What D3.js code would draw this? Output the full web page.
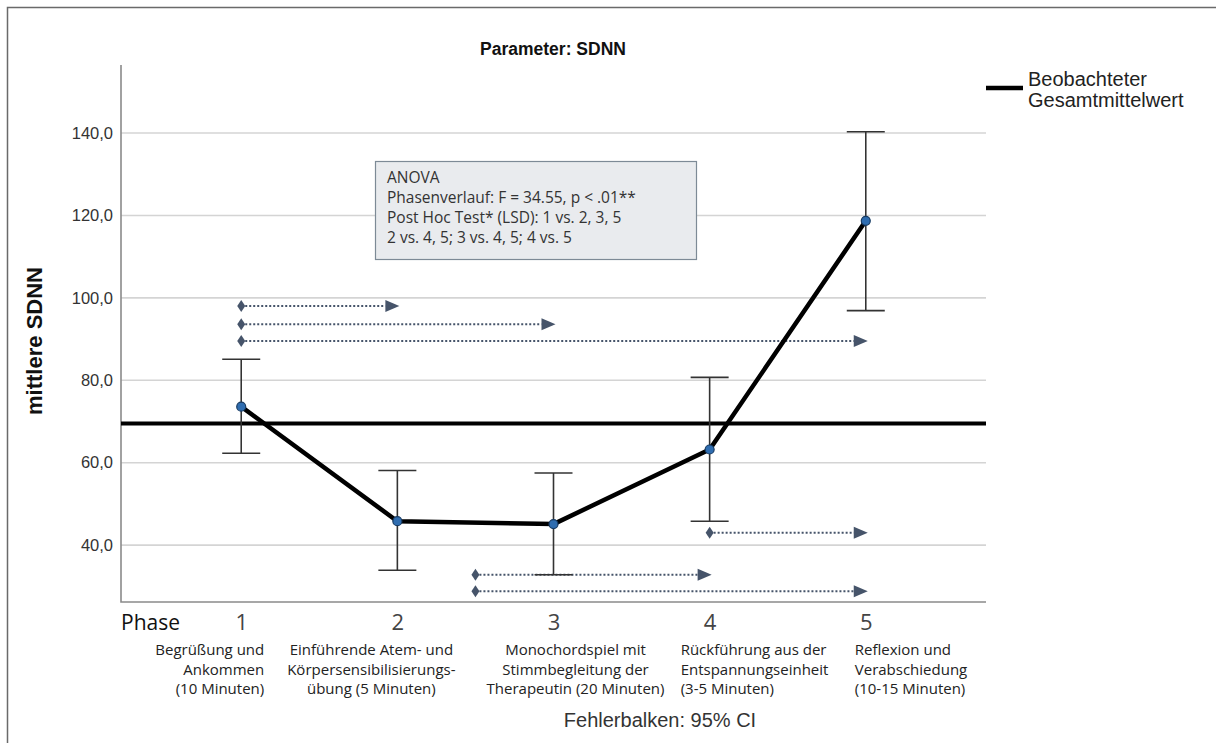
<!DOCTYPE html>
<html>
<head>
<meta charset="utf-8">
<script src="https://cdn.jsdelivr.net/npm/d3@7"></script>
<style>
  body { margin: 0; background: #fff; }
  svg { display: block; }
</style>
</head>
<body>
<div class="chart"></div>
<script>
// data
const phases = [1, 2, 3, 4, 5];
const phaseText = [
    ['Begrüßung und', 'Ankommen', '(10 Minuten)'],
    ['Einführende Atem- und', 'Körpersensibilisierungs-', 'übung (5 Minuten)'],
    ['Monochordspiel mit', 'Stimmbegleitung der', 'Therapeutin (20 Minuten)'],
    ['Rückführung aus der', 'Entspannungseinheit', '(3-5 Minuten)'],
    ['Reflexion und', 'Verabschiedung', '(10-15 Minuten)']
];
const means = [73.6, 45.8, 45.1, 63.2, 118.7];
const ciLow = [62.3, 33.9, 32.8, 45.8, 96.9];
const ciHigh = [85.1, 58.1, 57.5, 80.7, 140.3];
const grandMean = 69.5;
const yTicks = [40, 60, 80, 100, 120, 140];

// significance arrows: from phase, to phase, height (SDNN units)
const arrowFrom = [1, 1, 1, 4, 2.5, 2.5];
const arrowTo = [2, 3, 5, 5, 4, 5];
const arrowLevel = [98.0, 93.6, 89.5, 43.0, 32.8, 28.8];

const anovaLines = [
    'ANOVA',
    'Phasenverlauf: F = 34.55, p < .01**',
    'Post Hoc Test* (LSD): 1 vs. 2, 3, 5',
    '2 vs. 4, 5; 3 vs. 4, 5; 4 vs. 5'
];

const width = 1216;
const height = 743;
const plotLeft = 121, plotRight = 986, plotTop = 65, plotBottom = 602;

const svg = d3.select('.chart')
    .append('svg')
    .attr('width', width)
    .attr('height', height)

// outer frame
svg.append('rect')
    .attr('x', 7.5).attr('y', 7.5)
    .attr('width', width + 20).attr('height', height + 20)
    .attr('fill', 'none')
    .attr('stroke', '#6a6a6a')
    .attr('stroke-width', 1.5)

const x = d3.scalePoint()
    .domain(phases)
    .range([plotLeft, plotRight])
    .padding(0.77)

const xPos = p => x(1) + (p - 1) * x.step()

const y = d3.scaleLinear()
    .domain([26.2, 156.5])
    .range([plotBottom, plotTop])

// gridlines
svg.selectAll('.grid')
    .data(yTicks)
    .enter()
    .append('line')
    .attr('x1', plotLeft).attr('x2', plotRight)
    .attr('y1', d => y(d)).attr('y2', d => y(d))
    .attr('stroke', '#d4d4d4')
    .attr('stroke-width', 1.6)

// y axis labels
const yAxis = svg.append('g')
    .attr('transform', `translate(${plotLeft},0)`)
    .call(d3.axisLeft(y).tickValues(yTicks).tickSize(0).tickPadding(8)
        .tickFormat(d => d3.format('.1f')(d).replace('.', ',')))
yAxis.select('.domain').remove()
yAxis.selectAll('text')
    .attr('font-family', 'Liberation Sans, Arial, sans-serif')
    .attr('font-size', 16.5)
    .attr('fill', '#333')

// axis frame
svg.append('path')
    .attr('d', `M${plotLeft},${plotTop}V${plotBottom}H${plotRight}`)
    .attr('fill', 'none')
    .attr('stroke', '#8a8a8a')
    .attr('stroke-width', 1.6)

// title
svg.append('text')
    .attr('x', 553).attr('y', 55)
    .attr('text-anchor', 'middle')
    .attr('font-family', 'Liberation Sans, Arial, sans-serif')
    .attr('font-weight', 'bold')
    .attr('font-size', 17.5)
    .attr('fill', '#111')
    .text('Parameter: SDNN')

// y title
svg.append('text')
    .attr('transform', `translate(42,${341}) rotate(-90)`)
    .attr('text-anchor', 'middle')
    .attr('font-family', 'Liberation Sans, Arial, sans-serif')
    .attr('font-weight', 'bold')
    .attr('font-size', 22)
    .attr('fill', '#111')
    .text('mittlere SDNN')

// annotation box
const box = svg.append('g')
box.append('rect')
    .attr('x', 375.5).attr('y', 161.5)
    .attr('width', 321).attr('height', 98)
    .attr('fill', '#e9ebee')
    .attr('stroke', '#7d8a96')
    .attr('stroke-width', 1.2)
box.selectAll('text')
    .data(anovaLines)
    .enter()
    .append('text')
    .attr('x', 387)
    .attr('y', (d, i) => 183 + i * 19.9)
    .attr('font-family', 'Open Sans, sans-serif')
    .attr('font-size', 15.5)
    .attr('fill', '#333')
    .text(d => d)

// grand mean line
svg.append('line')
    .attr('x1', plotLeft).attr('x2', plotRight)
    .attr('y1', y(grandMean)).attr('y2', y(grandMean))
    .attr('stroke', '#000')
    .attr('stroke-width', 4)

// significance arrows
const arrowColor = '#46546a'
const arrows = svg.selectAll('.arrow')
    .data(arrowFrom.map((f, i) => ({ from: f, to: arrowTo[i], level: arrowLevel[i] })))
    .enter()
    .append('g')
    .attr('transform', d => `translate(0,${y(d.level)})`)
arrows.append('line')
    .attr('x1', d => xPos(d.from) + 4)
    .attr('x2', d => xPos(d.to) - 12)
    .attr('stroke', arrowColor)
    .attr('stroke-width', 2)
    .attr('stroke-dasharray', '2,2')
arrows.append('path')
    .attr('d', d => {
        const s = xPos(d.from)
        return `M${s - 4},0L${s},-6L${s + 4},0L${s},6Z`
    })
    .attr('fill', arrowColor)
arrows.append('path')
    .attr('d', d => {
        const e = xPos(d.to) + 2
        return `M${e},0L${e - 14},-6L${e - 14},6Z`
    })
    .attr('fill', arrowColor)

// error bars
const bars = svg.selectAll('.ci')
    .data(phases)
    .enter()
    .append('g')
    .attr('stroke', '#333')
    .attr('stroke-width', 1.6)
bars.append('line')
    .attr('x1', d => x(d)).attr('x2', d => x(d))
    .attr('y1', (d, i) => y(ciLow[i])).attr('y2', (d, i) => y(ciHigh[i]))
bars.append('line')
    .attr('x1', d => x(d) - 19).attr('x2', d => x(d) + 19)
    .attr('y1', (d, i) => y(ciLow[i])).attr('y2', (d, i) => y(ciLow[i]))
bars.append('line')
    .attr('x1', d => x(d) - 19).attr('x2', d => x(d) + 19)
    .attr('y1', (d, i) => y(ciHigh[i])).attr('y2', (d, i) => y(ciHigh[i]))

// mean line
const line = d3.line()
    .x((d, i) => x(phases[i]))
    .y(d => y(d))
svg.append('path')
    .datum(means)
    .attr('d', line)
    .attr('fill', 'none')
    .attr('stroke', '#000')
    .attr('stroke-width', 4.5)
    .attr('stroke-linejoin', 'round')

svg.selectAll('.pt')
    .data(means)
    .enter()
    .append('circle')
    .attr('cx', (d, i) => x(phases[i]))
    .attr('cy', d => y(d))
    .attr('r', 4.5)
    .attr('fill', '#2f6db0')
    .attr('stroke', '#173b63')
    .attr('stroke-width', 1.2)

// legend
svg.append('line')
    .attr('x1', 986).attr('x2', 1023)
    .attr('y1', 88).attr('y2', 88)
    .attr('stroke', '#000')
    .attr('stroke-width', 4.5)
svg.selectAll('.leg')
    .data(['Beobachteter', 'Gesamtmittelwert'])
    .enter()
    .append('text')
    .attr('x', 1028)
    .attr('y', (d, i) => 86 + i * 21)
    .attr('font-family', 'Liberation Sans, Arial, sans-serif')
    .attr('font-size', 20)
    .attr('fill', '#222')
    .text(d => d)

// x axis: phase numbers and descriptions
svg.append('text')
    .attr('x', 121).attr('y', 630)
    .attr('font-family', 'Open Sans, sans-serif')
    .attr('font-size', 21)
    .attr('fill', '#111')
    .text('Phase')

const xAxis = svg.append('g')
    .attr('transform', `translate(0,${plotBottom})`)
    .call(d3.axisBottom(x).tickSize(0).tickPadding(10))
xAxis.select('.domain').remove()
xAxis.selectAll('text')
    .attr('dy', 0)
    .attr('y', 28)
    .attr('font-family', 'Open Sans, sans-serif')
    .attr('font-size', 22)
    .attr('fill', '#444')

const descAnchor = ['end', 'middle', 'middle', 'start', 'start']
const descShift = [23, -26, 22, -29, -11]
phases.forEach((p, i) => {
    svg.append('g')
        .selectAll('text')
        .data(phaseText[i])
        .enter()
        .append('text')
        .attr('x', x(p) + descShift[i])
        .attr('y', (d, j) => 655 + j * 19.5)
        .attr('text-anchor', descAnchor[i])
        .attr('font-family', 'Open Sans, sans-serif')
        .attr('font-size', 15)
        .attr('fill', '#222')
        .text(d => d)
})

svg.append('text')
    .attr('x', 660).attr('y', 727)
    .attr('text-anchor', 'middle')
    .attr('font-family', 'Liberation Sans, Arial, sans-serif')
    .attr('font-size', 20)
    .attr('fill', '#333')
    .text('Fehlerbalken: 95% CI')
</script>
</body>
</html>
